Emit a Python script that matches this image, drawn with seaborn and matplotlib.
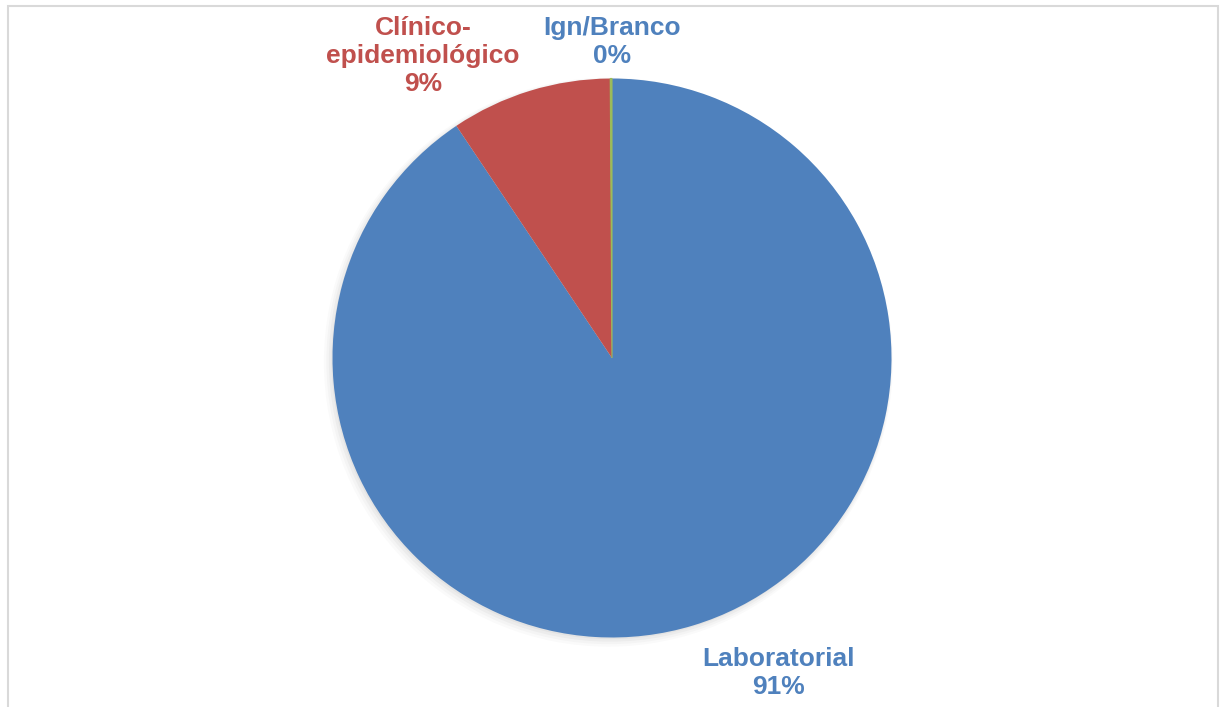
import matplotlib
matplotlib.use("Agg")
import matplotlib.pyplot as plt
from matplotlib.patches import Rectangle
import seaborn as sns

# Case confirmation criterion (share of cases, %)
categories = ["Laboratorial", "Clínico-\nepidemiológico", "Ign/Branco"]
shares = [90.6, 9.3, 0.1]
colors = ["#4F81BD", "#C0504D", "#9BBB59"]
label_colors = ["#4F81BD", "#C0504D", "#4F81BD"]

sns.set_theme(style="white")
plt.rcParams["font.family"] = ["Liberation Sans", "DejaVu Sans"]

W, H = 1225, 707
fig = plt.figure(figsize=(W / 100, H / 100), dpi=100)
fig.patch.set_facecolor("white")

# chart-area frame
fig.add_artist(Rectangle((8 / W, -0.05), (1218 - 8) / W, 1.05 - 6 / H,
                         transform=fig.transFigure, fill=False,
                         edgecolor="#D9D9D9", linewidth=1.5))

cx, cy, r = 612, H - 358, 279.5
ax = fig.add_axes([(cx - r) / W, (cy - r) / H, 2 * r / W, 2 * r / H])

# soft drop shadow
for i, a in enumerate([0.035, 0.03, 0.025, 0.02]):
    ax.add_patch(plt.Circle((-0.004 - i * 0.003, -0.006 - i * 0.003), 1.0 + i * 0.006,
                            color="black", alpha=a, lw=0, zorder=0, clip_on=False))

wedges, _ = ax.pie(shares, colors=colors, startangle=90, counterclock=False,
                   radius=1.0, wedgeprops=dict(linewidth=0))
for w in wedges:
    w.set_zorder(2)
# keep the tiny slice visible as a thin line
wedges[2].set_edgecolor(colors[2])
wedges[2].set_linewidth(0.8)

ax.set_xlim(-1, 1)
ax.set_ylim(-1, 1)
ax.set_aspect("equal")
ax.axis("off")

total = sum(shares)
label_pos = [(0.594, -1.127), (-0.676, 1.080), (0.0, 1.131)]
for name, val, col, (lx, ly) in zip(categories, shares, label_colors, label_pos):
    ax.text(lx, ly, f"{name}\n{round(val / total * 100):.0f}%", ha="center", va="center",
            fontsize=19, fontweight="bold", color=col, linespacing=1.2,
            clip_on=False, zorder=5)

fig.savefig("out.png", dpi=100, facecolor="white")
